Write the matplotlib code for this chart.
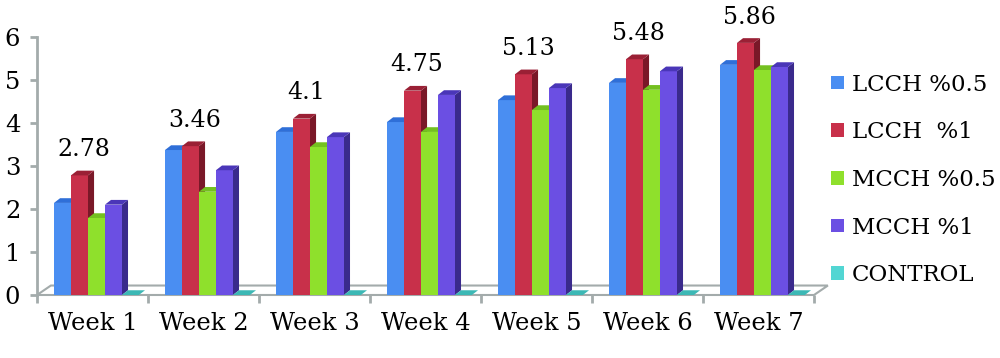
import matplotlib
matplotlib.use("Agg")
import matplotlib.pyplot as plt
from matplotlib.patches import Patch
import numpy as np

plt.rcParams['font.family'] = ['DejaVu Serif']

weeks = ["Week 1", "Week 2", "Week 3", "Week 4", "Week 5", "Week 6", "Week 7"]
series_names = ["LCCH %0.5", "LCCH  %1", "MCCH %0.5", "MCCH %1", "CONTROL"]
lcch_05 = [2.14, 3.37, 3.79, 4.02, 4.53, 4.93, 5.35]
lcch_1 = [2.78, 3.46, 4.10, 4.75, 5.13, 5.48, 5.86]
mcch_05 = [1.79, 2.40, 3.44, 3.79, 4.30, 4.77, 5.23]
mcch_1 = [2.10, 2.90, 3.67, 4.65, 4.81, 5.20, 5.30]
control = [0, 0, 0, 0, 0, 0, 0]
red_labels = ["2.78", "3.46", "4.1", "4.75", "5.13", "5.48", "5.86"]

front = ["#4a8ef2", "#c8304a", "#8fe02c", "#6b4fe3", "#52d6d3"]
side = ["#2a5aa8", "#7a1828", "#5f9c16", "#3a2a8c", "#2a9c9a"]
top = ["#2f6fd8", "#9a2035", "#74c020", "#4a36b8", "#3cb8b5"]

series = [lcch_05, lcch_1, mcch_05, mcch_1, control]

fig = plt.figure(figsize=(10, 3.58), dpi=100)
ax = fig.add_axes([0.037, 0.176, 0.777, 0.721])
ax.set_xlim(0, 7)
ax.set_ylim(0, 6)

w = 0.153
dx = 0.055
dy = 0.11
gray = "#a3abab"

# floor
fdx, fdy = 0.125, 0.22
ax.fill([0, 7, 7 + fdx, fdx], [0, 0, fdy, fdy], facecolor="white",
        edgecolor=gray, linewidth=1.5, zorder=1, clip_on=False)

x = np.arange(len(weeks))
for i in range(len(weeks)):
    for s, vals in enumerate(series):
        x0 = x[i] + w * (s + 1)
        v = vals[i]
        if v > 0:
            ax.bar(x0, v, width=w, align="edge", color=front[s], zorder=3 + s * 0.01 + i)
            ax.fill([x0 + w, x0 + w + dx, x0 + w + dx, x0 + w],
                    [0, dy, v + dy, v], facecolor=side[s], edgecolor="none",
                    zorder=2.9 + s * 0.01 + i, clip_on=False)
        ax.fill([x0, x0 + dx, x0 + w + dx, x0 + w],
                [v, v + dy, v + dy, v], facecolor=top[s], edgecolor="none",
                zorder=3 + s * 0.01 + i, clip_on=False)
    ax.text(x[i] + w * 2.5 + 0.04, lcch_1[i] + 0.6, red_labels[i],
            ha="center", va="center", fontsize=17, clip_on=False, zorder=20)

for sp in ["top", "right"]:
    ax.spines[sp].set_visible(False)
ax.spines["left"].set_color(gray)
ax.spines["left"].set_linewidth(2)
ax.spines["bottom"].set_visible(False)
ax.set_yticks(range(0, 7))
ax.tick_params(axis="y", colors=gray, length=5, width=2, pad=7, labelsize=17.5,
               labelcolor="black")
ax.set_xticks(range(0, 8))
ax.set_xticklabels([])
ax.set_xticks(x + 0.5, minor=True)
ax.set_xticklabels(weeks, minor=True, fontsize=17.5)
ax.tick_params(axis="x", which="major", colors=gray, length=6, width=2, direction="out")
ax.tick_params(axis="x", which="minor", length=0, pad=12)
ax.set_facecolor("none")

handles = [Patch(facecolor=c, edgecolor="none") for c in front]
fig.legend(handles, series_names, loc="upper left", bbox_to_anchor=(0.822, 0.82),
           frameon=False, fontsize=16.5, handlelength=0.55, handleheight=0.55,
           handletextpad=0.35, labelspacing=1.12, borderaxespad=0)

fig.savefig("out.png", dpi=100)
